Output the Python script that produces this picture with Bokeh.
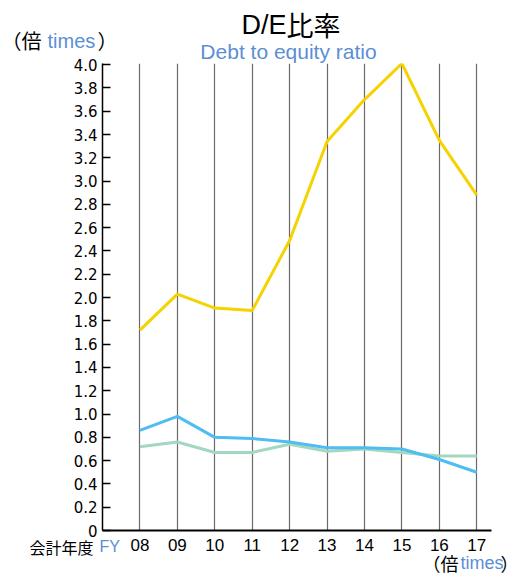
from bokeh.plotting import figure
from bokeh.models import Range1d, FixedTicker, Label, PrintfTickFormatter
from bokeh.embed import file_html
from bokeh.resources import INLINE

# ---- data ----
fiscal_years = ["08", "09", "10", "11", "12", "13", "14", "15", "16", "17"]
series_yellow = [1.72, 2.03, 1.91, 1.89, 2.49, 3.34, 3.70, 4.01, 3.35, 2.88]
series_blue = [0.86, 0.98, 0.80, 0.79, 0.76, 0.71, 0.71, 0.70, 0.61, 0.50]
series_green = [0.72, 0.76, 0.67, 0.67, 0.74, 0.68, 0.70, 0.67, 0.64, 0.64]
y_tick_values = [0.0, 0.2, 0.4, 0.6, 0.8, 1.0, 1.2, 1.4, 1.6, 1.8, 2.0,
                 2.2, 2.4, 2.6, 2.8, 3.0, 3.2, 3.4, 3.6, 3.8, 4.0]
y_tick_labels = ["0", "0.2", "0.4", "0.6", "0.8", "1.0", "1.2", "1.4", "1.6", "1.8", "2.0",
                 "2.2", "2.4", "2.6", "2.8", "3.0", "3.2", "3.4", "3.6", "3.8", "4.0"]

BLUE_TXT = "#5b8fd3"
LATIN = "Liberation Sans"
CJK = "Noto Sans CJK JP"

W, H = 521, 578
x = list(range(len(fiscal_years)))

# ---------------- main chart ----------------
p = figure(width=W, height=H,
           x_range=Range1d(-1, 9.393), y_range=Range1d(0, 4.01),
           output_backend="svg", toolbar_location=None,
           min_border_left=102, min_border_right=30,
           min_border_top=63, min_border_bottom=48)
p.outline_line_color = None
p.background_fill_color = "white"
p.border_fill_color = "white"

p.ygrid.grid_line_color = None
p.xgrid.grid_line_color = "#6a6a6a"
p.xgrid.grid_line_width = 1.2
p.xgrid.ticker = FixedTicker(ticks=x)

p.xaxis.ticker = FixedTicker(ticks=x)
p.xaxis.major_label_overrides = {i: fy for i, fy in enumerate(fiscal_years)}
p.xaxis.major_tick_in = 0
p.xaxis.major_tick_out = 0
p.xaxis.minor_tick_line_color = None
p.xaxis.axis_line_color = "black"
p.xaxis.axis_line_width = 2
p.xaxis.major_label_text_font = LATIN
p.xaxis.major_label_text_font_size = "17px"
p.xaxis.major_label_text_color = "black"
p.xaxis.major_label_standoff = 8

p.yaxis.ticker = FixedTicker(ticks=y_tick_values)
p.yaxis.formatter = PrintfTickFormatter(format="%.1f")
p.yaxis.major_label_overrides = {v: s for v, s in zip(y_tick_values, y_tick_labels)}
p.yaxis.major_tick_in = 8
p.yaxis.major_tick_out = 0
p.yaxis.major_tick_line_color = "black"
p.yaxis.major_tick_line_width = 1.5
p.yaxis.minor_tick_line_color = None
p.yaxis.axis_line_color = "black"
p.yaxis.axis_line_width = 1.5
p.yaxis.major_label_text_font = "DejaVu Sans"
p.yaxis.major_label_text_font_size = "15px"
p.yaxis.major_label_text_color = "black"
p.yaxis.major_label_standoff = 5

p.line(x, series_yellow, line_color="#f5d200", line_width=3, line_join="round")
p.line(x, series_green, line_color="#a2d7c0", line_width=3, line_join="round")
p.line(x, series_blue, line_color="#4fbcf2", line_width=3, line_join="round")

# ---------------- text layer (separate root, overlaid, transparent) ----------------
t = figure(width=W, height=H, x_range=Range1d(0, 1), y_range=Range1d(0, 1),
           x_axis_type=None, y_axis_type=None,
           output_backend="svg", toolbar_location=None,
           min_border_left=0, min_border_right=0,
           min_border_top=0, min_border_bottom=0)
t.outline_line_color = None
t.background_fill_color = None
t.border_fill_color = None
t.margin = (-H, 0, 0, 0)


def lbl(px, py, text, font, size, color, align):
    t.add_layout(Label(x=px, y=py, x_units="canvas", y_units="canvas",
                       text=text, text_font=font, text_font_size=size,
                       text_color=color, text_align=align,
                       text_baseline="middle"))


# title
lbl(286, 24, "D/E", LATIN, "27px", "black", "right")
lbl(286, 24, "比率", CJK, "27px", "black", "left")
lbl(288, 51, "Debt to equity ratio", LATIN, "21px", BLUE_TXT, "center")

# unit label top-left
lbl(1, 40, "（倍", CJK, "20px", "black", "left")
lbl(47, 40, "times", LATIN, "20px", BLUE_TXT, "left")
lbl(97, 40, "）", CJK, "20px", "black", "left")

# fiscal year label
lbl(93, 546, "会計年度", CJK, "16px", "black", "right")
lbl(99, 546, "FY", LATIN, "16px", BLUE_TXT, "left")

# unit label bottom-right
lbl(458, 562, "（倍", CJK, "18px", "black", "right")
lbl(460, 562, "times", LATIN, "18px", BLUE_TXT, "left")
lbl(500, 562, "）", CJK, "18px", "black", "left")

open("out.html", "w").write(file_html([p, t], INLINE))
